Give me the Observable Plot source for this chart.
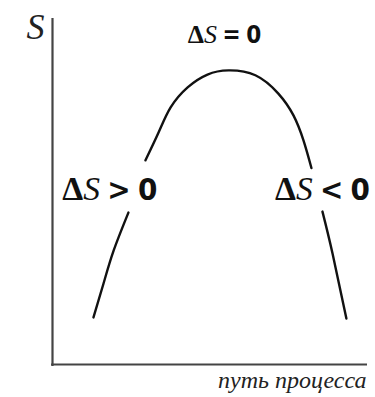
<!DOCTYPE html>
<html>
<head>
<meta charset="utf-8">
<script src="https://cdn.jsdelivr.net/npm/d3@7"></script>
<script src="https://cdn.jsdelivr.net/npm/@observablehq/plot@0.6"></script>
<style>
  html, body { margin: 0; padding: 0; background: #fff; }
  #chart svg { display: block; }
</style>
</head>
<body>
<div id="chart"></div>
<script>
// Curve segments (process path units, entropy units)
const segUpperX = [2.95, 3.37, 3.75, 4.29, 4.92, 5.59, 6.44, 7.17, 7.65, 7.97, 8.22];
const segUpperY = [5.90, 6.71, 7.43, 8.01, 8.38, 8.50, 8.36, 7.83, 7.20, 6.47, 5.68];
const segLeftX = [2.41, 1.94, 1.62, 1.30];
const segLeftY = [4.39, 3.29, 2.34, 1.36];
const segRightX = [8.57, 8.89, 9.33];
const segRightY = [4.42, 3.21, 1.33];

// Annotation texts and their anchor points (data units)
const labelTexts = ["ΔS = 0", "ΔS > 0", "ΔS < 0"];
const labelX = [5.46, 1.82, 8.57];
const labelY = [9.28, 4.74, 4.74];
const yAxisTitle = "S";
const xAxisTitle = "путь процесса";

const curve = [
  ...segUpperX.map((x, i) => ({seg: "upper", x, y: segUpperY[i]})),
  ...segLeftX.map((x, i) => ({seg: "left", x, y: segLeftY[i]})),
  ...segRightX.map((x, i) => ({seg: "right", x, y: segRightY[i]}))
];
const labels = labelTexts.map((t, i) => ({t, x: labelX[i], y: labelY[i]}));

const chart = Plot.plot({
  width: 375,
  height: 397,
  marginLeft: 52,
  marginRight: 8,
  marginTop: 18,
  marginBottom: 33,
  x: {domain: [0, 10], axis: null},
  y: {domain: [0, 10], axis: null},
  marks: [
    Plot.ruleX([0], {y1: -0.06, y2: 10, stroke: "#444", strokeWidth: 2.2}),
    Plot.ruleY([0], {x1: -0.03, x2: 10, stroke: "#444", strokeWidth: 2.2}),
    Plot.line(curve, {x: "x", y: "y", z: "seg", curve: "natural", stroke: "#111", strokeWidth: 2.4}),
    Plot.text(labels, {x: "x", y: "y", text: "t", lineAnchor: "bottom", textAnchor: "middle",
      fontSize: (d, i) => i === 0 ? 24 : 31, fill: "#111"}),
    Plot.text([yAxisTitle], {x: -0.54, y: 9.42, text: d => d, lineAnchor: "bottom", textAnchor: "middle",
      fontSize: 36, fontStyle: "italic", fontFamily: "Liberation Serif, serif", fill: "#222"}),
    Plot.text([xAxisTitle], {x: 9.97, y: -0.69, text: d => d, lineAnchor: "bottom", textAnchor: "end",
      fontSize: 24, fontStyle: "italic", fontFamily: "Liberation Serif, serif", fill: "#222"})
  ]
});

// style the Δ-labels: bold serif Δ, italic serif S, bold sans relation
d3.select(chart).selectAll("text").each(function() {
  const el = d3.select(this);
  const s = el.text();
  if (s.startsWith("Δ")) {
    const rest = s.slice(2);
    el.text("");
    el.append("tspan").attr("font-family", "Liberation Serif, serif")
      .attr("font-weight", "bold").attr("font-size", "1.08em").text("Δ");
    el.append("tspan").attr("font-family", "Liberation Serif, serif")
      .attr("font-style", "italic").attr("font-weight", "normal").attr("font-size", "1.08em").text("S");
    el.append("tspan").attr("font-family", "DejaVu Sans Condensed, DejaVu Sans, sans-serif")
      .attr("font-weight", "bold").attr("word-spacing", "-0.08em").text(rest);
  }
});

document.getElementById("chart").appendChild(chart);
</script>
</body>
</html>
